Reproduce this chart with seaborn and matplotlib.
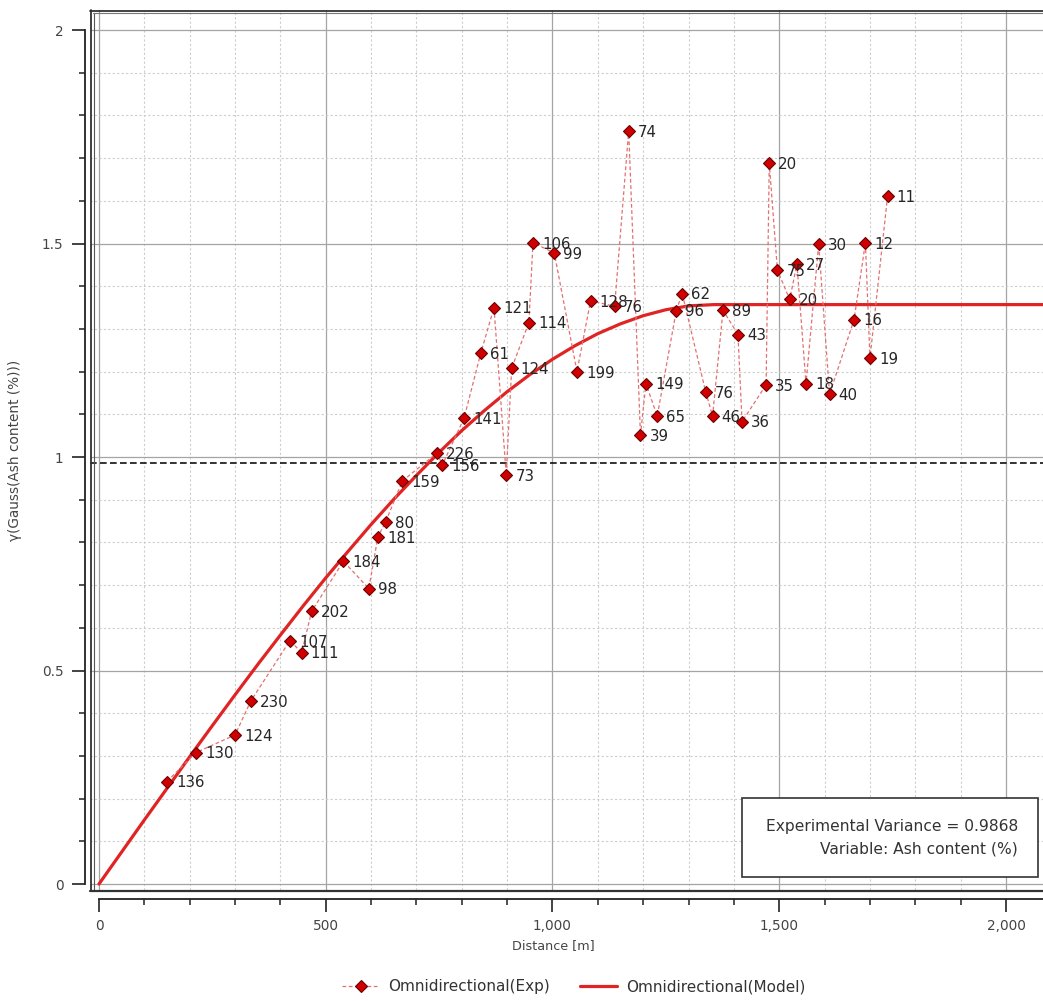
import matplotlib
matplotlib.use("Agg")
import matplotlib.pyplot as plt
from matplotlib.lines import Line2D
from matplotlib.patches import Rectangle
from matplotlib.ticker import MultipleLocator, FuncFormatter
import seaborn as sns

# Experimental semivariogram: lag distance (m), semivariance and number of pairs per lag
lag_distance = [150, 214, 300, 335, 421, 447, 469, 539, 595, 615, 632, 669,
                746, 757, 805, 842, 871, 898, 910, 948, 957, 1004, 1054, 1084,
                1137, 1168, 1194, 1206, 1231, 1273, 1286, 1338, 1353, 1376, 1409, 1418,
                1471, 1478, 1496, 1523, 1539, 1559, 1587, 1611, 1665, 1690, 1700, 1739]
semivariance = [0.240, 0.308, 0.349, 0.429, 0.570, 0.542, 0.639, 0.756, 0.692, 0.813, 0.848, 0.944,
                1.010, 0.981, 1.091, 1.244, 1.350, 0.958, 1.208, 1.315, 1.502, 1.478, 1.200, 1.366,
                1.353, 1.764, 1.051, 1.172, 1.096, 1.343, 1.383, 1.152, 1.096, 1.344, 1.287, 1.083,
                1.169, 1.688, 1.438, 1.369, 1.452, 1.172, 1.499, 1.147, 1.322, 1.502, 1.231, 1.612]
pair_counts = [136, 130, 124, 230, 107, 111, 202, 184, 98, 181, 80, 159,
               226, 156, 141, 61, 121, 73, 124, 114, 106, 99, 199, 128,
               76, 74, 39, 149, 65, 96, 62, 76, 46, 89, 43, 36,
               35, 20, 75, 20, 27, 18, 30, 40, 16, 12, 19, 11]

# Fitted model curve (spherical shape, sill reached near 1356 m)
model_distance = [0, 50, 100, 150, 200, 250, 300, 350, 400, 450, 500, 550, 600, 650,
                  700, 750, 800, 850, 900, 950, 1000, 1050, 1100, 1150, 1200, 1250,
                  1300, 1356, 2100]
model_gamma = [0.0, 0.075, 0.150, 0.224, 0.298, 0.371, 0.443, 0.514, 0.583, 0.651, 0.717,
               0.780, 0.842, 0.901, 0.957, 1.011, 1.062, 1.109, 1.153, 1.193, 1.229,
               1.261, 1.289, 1.312, 1.331, 1.345, 1.354, 1.357, 1.357]

experimental_variance = 0.9868
x_ticks = [0, 500, 1000, 1500, 2000]
y_ticks = [0, 0.5, 1, 1.5, 2]

sns.set_theme(style="white")
plt.rcParams['font.family'] = ['DejaVu Sans']

W, H = 1043, 1001
fig = plt.figure(figsize=(W / 100, H / 100), dpi=100)
fig.patch.set_facecolor("white")


def fx(px):
    return px / W


def fy(py):
    return 1 - py / H


ax = fig.add_axes([fx(90), fy(890), fx(1043) - fx(90), fy(10) - fy(890)])
ax.set_facecolor("white")
ax.set_xlim(-19.8, 2081.6)
ax.set_ylim(-0.014, 2.047)

# grid
ax.xaxis.set_major_locator(MultipleLocator(500))
ax.xaxis.set_minor_locator(MultipleLocator(100))
ax.yaxis.set_major_locator(MultipleLocator(0.5))
ax.yaxis.set_minor_locator(MultipleLocator(0.1))
ax.grid(which="major", color="#a4a4a4", lw=0.9, ls="-")
ax.grid(which="minor", color="#cdcdcd", lw=0.8, ls=(0, (2, 2)))
ax.set_axisbelow(True)

# sill reference line
ax.axhline(experimental_variance, color="#111111", lw=1.2, ls=(0, (4, 2)), zorder=2)

sns.lineplot(x=model_distance, y=model_gamma, ax=ax, color="#e02424", lw=2.3,
             label="Omnidirectional(Model)", zorder=3)
sns.lineplot(x=lag_distance, y=semivariance, ax=ax, sort=False, estimator=None,
             color="#e47070", lw=0.9, ls=(0, (3, 2)), marker="D", markersize=6.5,
             markerfacecolor="#d00000", markeredgecolor="#6a0000", markeredgewidth=0.8,
             label="Omnidirectional(Exp)", zorder=4)

for d, g, n in zip(lag_distance, semivariance, pair_counts):
    ax.annotate(str(n), (d, g), xytext=(6.5, -1), textcoords="offset points",
                va="center", ha="left", fontsize=10.8, color="#262626", zorder=5)

# axis spines offset from the plot frame
for s in ("top", "right"):
    ax.spines[s].set_visible(False)
ax.spines["left"].set_position(("outward", 3.6))
ax.spines["bottom"].set_position(("outward", 6.5))
ax.spines["left"].set_bounds(0, 2)
ax.spines["bottom"].set_bounds(0, 2081.6)
for s in ("left", "bottom"):
    ax.spines[s].set_color("#222222")
    ax.spines[s].set_linewidth(1.3)

ax.tick_params(which="major", direction="out", length=9.5, width=1.2, color="#222222",
               labelsize=9.8, labelcolor="#444444", left=True, bottom=True)
ax.tick_params(which="minor", direction="out", length=4, width=1.1, color="#222222",
               left=True, bottom=True)
ax.tick_params(axis="y", which="major", pad=6)
ax.tick_params(axis="x", which="major", pad=5)
ax.set_xticks(x_ticks)
ax.set_yticks(y_ticks)
ax.xaxis.set_major_formatter(FuncFormatter(lambda v, p: f"{int(v):,}"))
ax.yaxis.set_major_formatter(FuncFormatter(lambda v, p: f"{v:g}"))

ax.set_xlabel("Distance [m]", fontsize=9.2, color="#444444")
ax.xaxis.set_label_coords((553 - 90) / 953, (890 - 939) / 880)
ax.set_ylabel("γ(Gauss(Ash content (%)))", fontsize=9.8, color="#444444")
ax.yaxis.set_label_coords((22 - 90) / 953, 0.5)

# double plot frame
frame_kw = dict(transform=fig.transFigure, clip_on=False)
fig.add_artist(Line2D([fx(90.5), fx(90.5)], [fy(10), fy(890)], color="#333333", lw=1.3, **frame_kw))
fig.add_artist(Line2D([fx(93.5), fx(93.5)], [fy(13), fy(890)], color="#555555", lw=0.8, **frame_kw))
fig.add_artist(Line2D([fx(90), fx(1043)], [fy(10.5), fy(10.5)], color="#333333", lw=1.3, **frame_kw))
fig.add_artist(Line2D([fx(93), fx(1043)], [fy(13), fy(13)], color="#777777", lw=0.8, **frame_kw))
fig.add_artist(Line2D([fx(90), fx(1043)], [fy(890.5), fy(890.5)], color="#333333", lw=1.6, **frame_kw))

# info box
fig.add_artist(Rectangle((fx(742), fy(877)), fx(1038) - fx(742), fy(798) - fy(877),
                         transform=fig.transFigure, facecolor="white", edgecolor="#333333",
                         lw=1.2, zorder=10))
fig.text(fx(1018), fy(827), f"Experimental Variance = {experimental_variance:.4f}",
         ha="right", va="center", fontsize=11.2, color="#333333", zorder=11)
fig.text(fx(1018), fy(849), "Variable: Ash content (%)",
         ha="right", va="center", fontsize=11.2, color="#333333", zorder=11)

# legend below the plot
handles, labels = ax.get_legend_handles_labels()
if ax.get_legend():
    ax.get_legend().remove()
order = [labels.index("Omnidirectional(Exp)"), labels.index("Omnidirectional(Model)")]
fig.legend([handles[i] for i in order], [labels[i] for i in order],
           loc="center", bbox_to_anchor=(fx(574), fy(987)), ncol=2, frameon=False,
           fontsize=11, handlelength=2.4, handletextpad=0.6, columnspacing=2.0,
           labelcolor="#333333")

fig.savefig("out.png", dpi=100, facecolor="white")
